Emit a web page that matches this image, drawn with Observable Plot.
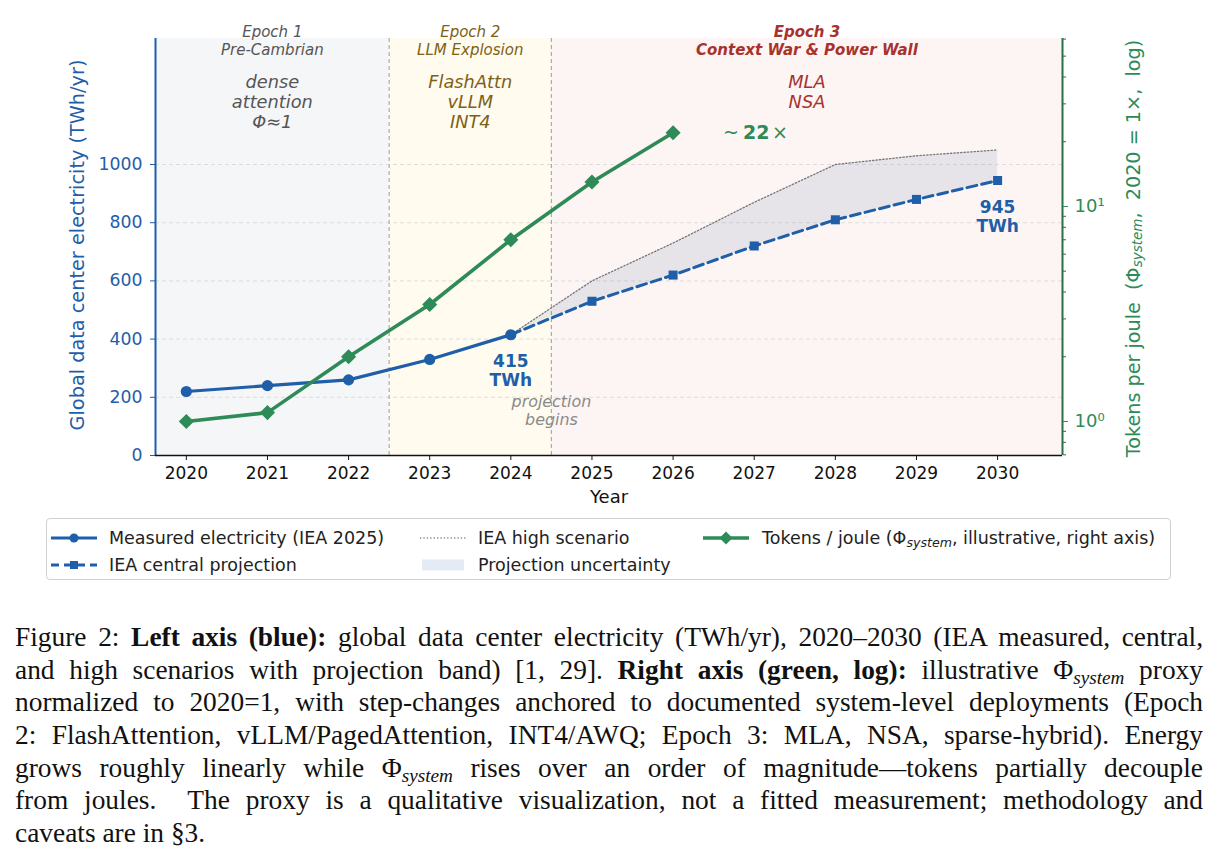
<!DOCTYPE html>
<html>
<head>
<meta charset="utf-8">
<script src="https://cdn.jsdelivr.net/npm/d3@7"></script>
<script src="https://cdn.jsdelivr.net/npm/@observablehq/plot@0.6"></script>
<style>
  html, body { margin: 0; padding: 0; background: #fff; }
  #page { position: relative; width: 1222px; height: 867px; overflow: hidden; font-family: "DejaVu Sans", sans-serif; }
  #chart { position: absolute; left: 0; top: 0; width: 1222px; height: 515px; }
  #chart svg { position: absolute; left: 0; top: 0; overflow: visible; }
  #legend { position: absolute; left: 46px; top: 518px; width: 1125px; height: 62px; border: 1px solid #d0d0d0; border-radius: 4px; box-sizing: border-box; font-size: 17.5px; color: #222; }
  .li { position: absolute; white-space: nowrap; line-height: 20px; }
  .sw { position: absolute; }
  #caption { position: absolute; left: 15px; top: 621px; width: 1188px; font-family: "Liberation Serif", "Times New Roman", serif; font-size: 27.4px; color: #111; }
  #caption .ln { height: 32.7px; line-height: 32.7px; text-align: justify; text-align-last: justify; white-space: nowrap; }
  #caption .ln.last { text-align-last: left; }
  #caption sub { font-style: italic; font-size: 70%; vertical-align: -0.25em; line-height: 0; }
  #legend sub { font-style: italic; font-size: 72%; vertical-align: -0.25em; line-height: 0; }
</style>
</head>
<body>
<div id="page">
  <div id="chart"></div>
  <div id="legend"></div>
  <div id="caption"></div>
</div>
<script>
// ---------------- data ----------------
const years = [2020, 2021, 2022, 2023, 2024, 2025, 2026, 2027, 2028, 2029, 2030];
const measuredYears = [2020, 2021, 2022, 2023, 2024];
const measuredTWh = [220, 240, 260, 330, 415];
const projYears = [2024, 2025, 2026, 2027, 2028, 2029, 2030];
const centralTWh = [415, 530, 620, 720, 810, 880, 945];
const highTWh = [415, 600, 730, 870, 1000, 1030, 1050];
const tokenYears = [2020, 2021, 2022, 2023, 2024, 2025, 2026];
const tokensPerJoule = [1.0, 1.1, 2.0, 3.5, 7.0, 13, 22];
const epochTitles = ["Epoch 1\nPre-Cambrian", "Epoch 2\nLLM Explosion", "Epoch 3\nContext War & Power Wall"];
const epochNotes = ["dense\nattention\nΦ≈1", "FlashAttn\nvLLM\nINT4", "MLA\nNSA"];
const epochStart = [2019.62, 2022.5, 2024.5];
const epochEnd = [2022.5, 2024.5, 2030.8];
const leftTicks = [0, 200, 400, 600, 800, 1000];
const rightMajorTicks = [1, 10];
const rightMinorTicks = [0.7, 0.8, 0.9, 2, 3, 4, 5, 6, 7, 8, 9, 20, 30, 40, 50, 60];
const leftDomain = [0, 1433];
const rightDomain = [0.695, 60.4];
const xDomain = [2019.62, 2030.8];

// ---------------- tables ----------------
const measured = measuredYears.map((y, i) => ({year: y, v: measuredTWh[i]}));
const proj = projYears.map((y, i) => ({year: y, central: centralTWh[i], high: highTWh[i]}));
const tokens = tokenYears.map((y, i) => ({year: y, v: tokensPerJoule[i]}));
const epochs = epochTitles.map((t, i) => ({title: t, note: epochNotes[i], start: epochStart[i], end: epochEnd[i], mid: (epochStart[i] + epochEnd[i]) / 2}));

// ---------------- styles ----------------
const BLUE = "#1f5ea8";
const GREEN = "#2e8b57";
const GREEN_DARK = "#2b6e4a";
const bgColors = ["#f5f6f8", "#fffbef", "#fdf5f3"];
const titleColors = ["#555555", "#7d6114", "#a8322d"];
const noteColors = ["#555555", "#7d6114", "#a8322d"];

const W = 1222, H = 515, mL = 155, mR = 160, mT = 38, mB = 60;
const base = {width: W, height: H, marginLeft: mL, marginRight: mR, marginTop: mT, marginBottom: mB};

const main = Plot.plot({
  ...base,
  style: {fontFamily: "DejaVu Sans", fontSize: "17px", background: "transparent", overflow: "visible"},
  x: {domain: xDomain},
  y: {domain: leftDomain},
  marks: [
    ...epochs.map((e, i) => Plot.rect([e], {x1: "start", x2: "end", y1: leftDomain[0], y2: leftDomain[1], fill: bgColors[i]})),
    Plot.ruleY(leftTicks, {stroke: "#d6d6d6", strokeWidth: 0.8, strokeDasharray: "4,3"}),
    Plot.ruleX(epochStart.slice(1), {stroke: "#aaaaaa", strokeWidth: 1.2, strokeDasharray: "4,3"}),
    Plot.areaY(proj, {x: "year", y1: "central", y2: "high", fill: "#4a6fa5", fillOpacity: 0.12}),
    Plot.line(proj, {x: "year", y: "high", stroke: "#777", strokeWidth: 1.3, strokeDasharray: "1.3,2.1"}),
    Plot.line(proj, {x: "year", y: "central", stroke: BLUE, strokeWidth: 3, strokeDasharray: "10,5"}),
    Plot.dot(proj.slice(1), {x: "year", y: "central", symbol: "square", r: 5.1, fill: BLUE, stroke: null}),
    Plot.line(measured, {x: "year", y: "v", stroke: BLUE, strokeWidth: 3.2}),
    Plot.dot(measured, {x: "year", y: "v", r: 5.6, fill: BLUE, stroke: null}),
    // spines
    Plot.ruleX([xDomain[0]], {stroke: BLUE, strokeWidth: 2}),
    Plot.ruleY([leftDomain[0]], {stroke: "#111", strokeWidth: 1.6}),
    // axes
    Plot.axisX(years, {tickSize: 5, tickPadding: 6, tickFormat: d => String(d), fontSize: 17, color: "#111", label: null}),
    Plot.axisY(leftTicks, {anchor: "left", tickSize: 5, tickPadding: 8, tickFormat: d => String(d), color: BLUE, fontSize: 17.3, label: null}),
    Plot.text(["Year"], {frameAnchor: "bottom", dy: 47, fontSize: 18, fill: "#111"}),
    Plot.text(["Global data center electricity (TWh/yr)"], {frameAnchor: "left", textAnchor: "middle", lineAnchor: "middle", dx: -78, dy: -2, rotate: -90, fontSize: 19.3, fill: BLUE}),
    // epoch labels
    ...epochs.map((e, i) => Plot.text([e], {x: "mid", text: "title", frameAnchor: "top", lineAnchor: "middle", dy: 2, lineHeight: 1.17, fontSize: 15, fontStyle: "italic", fontWeight: i === 2 ? "bold" : "normal", fill: titleColors[i]})),
    ...epochs.map((e, i) => Plot.text([e], {x: "mid", text: "note", frameAnchor: "top", lineAnchor: "top", dy: 35.5, lineHeight: 1.12, fontSize: 17.8, fontStyle: "italic", fill: noteColors[i]})),
    // annotations
    Plot.text([measured[measured.length - 1]], {x: "year", y: "v", text: d => `${d.v}\nTWh`, dy: 35.5, lineHeight: 1.12, fontSize: 17, fontWeight: "bold", fill: BLUE}),
    Plot.text([proj[proj.length - 1]], {x: "year", y: "central", text: d => `${d.central}\nTWh`, dy: 36, lineHeight: 1.12, fontSize: 17, fontWeight: "bold", fill: BLUE}),
    Plot.text([epochStart[2]], {x: d => d, text: () => "projection\nbegins", frameAnchor: "bottom", lineAnchor: "middle", dy: -45.5, lineHeight: 1.18, fontSize: 15.9, fontStyle: "italic", fill: "#8a8a8a"})
  ]
});

const over = Plot.plot({
  ...base,
  style: {fontFamily: "DejaVu Sans", fontSize: "17px", background: "transparent", overflow: "visible"},
  x: {domain: xDomain, axis: null},
  y: {type: "log", domain: rightDomain, axis: null},
  marks: [
    Plot.line(tokens, {x: "year", y: "v", stroke: GREEN, strokeWidth: 3.6}),
    Plot.dot(tokens, {x: "year", y: "v", symbol: "diamond2", r: 6.8, fill: GREEN, stroke: null}),
    Plot.ruleX([xDomain[1]], {stroke: GREEN_DARK, strokeWidth: 2}),
    Plot.axisY(rightMinorTicks, {anchor: "right", tickSize: 3, tickFormat: () => "", color: GREEN_DARK, label: null}),
    Plot.axisY(rightMajorTicks, {anchor: "right", tickSize: 5, tickPadding: 7, tickFormat: d => d === 1 ? "10⁰" : "10¹", color: GREEN, fontSize: 18, label: null}),
    // ~22x annotation
    Plot.text([tokens[tokens.length - 1]], {x: "year", y: "v", text: () => "~", textAnchor: "start", dx: 50, fontSize: 19, fill: GREEN}),
    Plot.text([tokens[tokens.length - 1]], {x: "year", y: "v", text: d => String(d.v), textAnchor: "start", dx: 70, fontSize: 19, fontWeight: "bold", fill: GREEN}),
    Plot.text([tokens[tokens.length - 1]], {x: "year", y: "v", text: () => "×", textAnchor: "start", dx: 99, fontSize: 19, fill: GREEN})
  ]
});

const chart = document.getElementById("chart");
chart.appendChild(main);
chart.appendChild(over);

// right-axis label with subscript
const svgOver = d3.select(over);
const lab = svgOver.append("text")
  .attr("transform", `translate(${W - mR + 71},${(mT + H - mB) / 2 + 2}) rotate(-90)`)
  .attr("text-anchor", "middle")
  .attr("dominant-baseline", "central")
  .attr("fill", GREEN)
  .attr("font-family", "DejaVu Sans")
  .attr("font-size", 19.2)
  .style("white-space", "pre");
lab.append("tspan").text("Tokens per joule  (Φ");
lab.append("tspan").attr("font-size", 13.5).attr("font-style", "italic").attr("dy", 4).text("system");
lab.append("tspan").attr("dy", -4).text(",  2020 = 1×,  log)");

// ---------------- legend ----------------
const legend = document.getElementById("legend");
const lx = 46, ly = 518;
function sw(x, y, inner) {
  const s = document.createElementNS("http://www.w3.org/2000/svg", "svg");
  s.setAttribute("width", 50); s.setAttribute("height", 20);
  s.setAttribute("class", "sw");
  s.style.left = (x - lx - 1) + "px"; s.style.top = (y - ly - 11) + "px";
  s.innerHTML = inner;
  legend.appendChild(s);
}
function lt(x, y, html) {
  const d = document.createElement("div");
  d.className = "li";
  d.style.left = (x - lx - 1) + "px"; d.style.top = (y - ly - 11) + "px";
  d.innerHTML = html;
  legend.appendChild(d);
}
sw(51, 538, `<line x1="0" y1="10" x2="46" y2="10" stroke="${BLUE}" stroke-width="3"/><circle cx="23" cy="10" r="4.5" fill="${BLUE}"/>`);
lt(109, 538, "Measured electricity (IEA 2025)");
sw(51, 565, `<line x1="0" y1="10" x2="46" y2="10" stroke="${BLUE}" stroke-width="3" stroke-dasharray="8,5"/><rect x="19" y="6" width="8" height="8" fill="${BLUE}"/>`);
lt(109, 565, "IEA central projection");
sw(420, 538, `<line x1="0" y1="10" x2="46" y2="10" stroke="#888" stroke-width="1.3" stroke-dasharray="1.3,2.1"/>`);
lt(478, 538, "IEA high scenario");
sw(420, 565, `<rect x="2" y="4.5" width="42" height="11" fill="#4a7ab5" fill-opacity="0.15"/>`);
lt(478, 565, "Projection uncertainty");
sw(703, 538, `<line x1="0" y1="10" x2="46" y2="10" stroke="${GREEN}" stroke-width="3.5"/><path d="M23,3.5 L29.5,10 L23,16.5 L16.5,10 Z" fill="${GREEN}"/>`);
lt(762, 538, "Tokens / joule (Φ<sub>system</sub>, illustrative, right axis)");

// ---------------- caption ----------------
const captionLines = [
  "Figure 2: <b>Left axis (blue):</b> global data center electricity (TWh/yr), 2020–2030 (IEA measured, central,",
  "and high scenarios with projection band) [1, 29]. <b>Right axis (green, log):</b> illustrative Φ<sub>system</sub> proxy",
  "normalized to 2020=1, with step-changes anchored to documented system-level deployments (Epoch",
  "2: FlashAttention, vLLM/PagedAttention, INT4/AWQ; Epoch 3: MLA, NSA, sparse-hybrid). Energy",
  "grows roughly linearly while Φ<sub>system</sub> rises over an order of magnitude—tokens partially decouple",
  "from joules.&nbsp; The proxy is a qualitative visualization, not a fitted measurement; methodology and",
  "caveats are in §3."
];
const cap = document.getElementById("caption");
captionLines.forEach((l, i) => {
  const d = document.createElement("div");
  d.className = "ln" + (i === captionLines.length - 1 ? " last" : "");
  d.innerHTML = l;
  cap.appendChild(d);
});
</script>
</body>
</html>
